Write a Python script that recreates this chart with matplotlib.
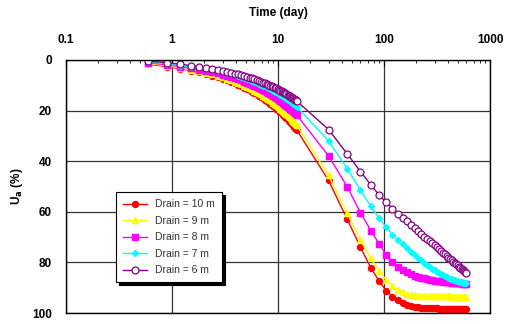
import matplotlib
matplotlib.use("Agg")
import matplotlib.pyplot as plt
from matplotlib.ticker import FixedLocator, FixedFormatter, LogLocator, NullFormatter

plt.rcParams['font.family'] = ['Liberation Sans', 'DejaVu Sans']

# time in days: 0.3 d steps up to 15 d, then 15 d steps to 600 d
TIME = [0.6, 0.9, 1.2, 1.5, 1.8, 2.1, 2.4, 2.7, 3.0, 3.3, 3.6, 3.9, 4.2, 4.5, 4.8,
        5.1, 5.4, 5.7, 6.0, 6.3, 6.6, 6.9, 7.2, 7.5, 7.8, 8.1, 8.4, 8.7, 9.0, 9.3,
        9.6, 9.9, 10.2, 10.5, 10.8, 11.1, 11.4, 11.7, 12.0, 12.3, 12.6, 12.9, 13.2,
        13.5, 13.8, 14.1, 14.4, 14.7, 15.0,
        30, 45, 60, 75, 90, 105, 120, 135, 150, 165, 180, 195, 210, 225, 240, 255,
        270, 285, 300, 315, 330, 345, 360, 375, 390, 405, 420, 435, 450, 465, 480,
        495, 510, 525, 540, 555, 570, 585, 600]

U_10 = [1.7, 2.6, 3.5, 4.2, 4.9, 5.5, 6.2, 6.8, 7.4, 8.0, 8.6, 9.2, 9.7, 10.3, 10.9,
        11.4, 12.0, 12.5, 13.0, 13.6, 14.1, 14.6, 15.1, 15.7, 16.2, 16.7, 17.2, 17.7,
        18.2, 18.7, 19.2, 19.7, 20.1, 20.6, 21.1, 21.6, 22.1, 22.5, 23.0, 23.5, 24.0,
        24.4, 24.9, 25.3, 25.8, 26.3, 26.7, 27.2, 27.6,
        47.6, 63.0, 74.0, 82.1, 87.4, 91.2, 93.5, 95.0, 96.1, 96.8, 97.3, 97.6, 97.8,
        97.9, 98.0, 98.1, 98.1, 98.2, 98.2, 98.2, 98.3, 98.3, 98.3, 98.3, 98.3, 98.4,
        98.4, 98.4, 98.4, 98.4, 98.4, 98.4, 98.4, 98.4, 98.4, 98.4, 98.4, 98.4, 98.4]

U_9 = [1.4, 2.3, 3.2, 3.9, 4.5, 5.1, 5.7, 6.3, 6.9, 7.4, 8.0, 8.5, 9.1, 9.6, 10.1,
       10.6, 11.1, 11.6, 12.1, 12.6, 13.1, 13.6, 14.1, 14.6, 15.0, 15.5, 16.0, 16.4,
       16.9, 17.4, 17.8, 18.3, 18.7, 19.2, 19.6, 20.1, 20.5, 21.0, 21.4, 21.8, 22.3,
       22.7, 23.1, 23.6, 24.0, 24.4, 24.9, 25.3, 25.7,
       45.6, 60.6, 71.1, 78.4, 83.3, 87.0, 89.3, 90.8, 91.8, 92.4, 92.8, 93.0, 93.2,
       93.3, 93.3, 93.4, 93.4, 93.4, 93.4, 93.4, 93.4, 93.4, 93.4, 93.4, 93.4, 93.4,
       93.4, 93.5, 93.5, 93.5, 93.5, 93.5, 93.5, 93.5, 93.5, 93.5, 93.5, 93.5, 93.5]

U_8 = [1.1, 1.9, 2.7, 3.3, 3.8, 4.3, 4.8, 5.3, 5.8, 6.3, 6.7, 7.2, 7.7, 8.1, 8.5,
       9.0, 9.4, 9.8, 10.3, 10.7, 11.1, 11.5, 11.9, 12.3, 12.7, 13.1, 13.5, 13.9,
       14.3, 14.7, 15.1, 15.5, 15.8, 16.2, 16.6, 17.0, 17.4, 17.7, 18.1, 18.5, 18.8,
       19.2, 19.6, 19.9, 20.3, 20.7, 21.0, 21.4, 21.7,
       37.9, 50.1, 60.3, 67.4, 72.6, 77.0, 79.8, 81.7, 83.0, 83.9, 84.6, 85.2, 85.7,
       86.0, 86.3, 86.6, 86.8, 87.0, 87.2, 87.3, 87.4, 87.5, 87.6, 87.7, 87.8, 87.9,
       87.9, 88.0, 88.0, 88.1, 88.1, 88.2, 88.2, 88.3, 88.3, 88.4, 88.4, 88.5, 88.5]

U_7 = [0.8, 1.5, 2.3, 2.8, 3.2, 3.7, 4.1, 4.5, 4.9, 5.3, 5.7, 6.1, 6.5, 6.9, 7.2,
       7.6, 8.0, 8.3, 8.7, 9.0, 9.4, 9.7, 10.1, 10.4, 10.8, 11.1, 11.5, 11.8, 12.1,
       12.5, 12.8, 13.1, 13.4, 13.8, 14.1, 14.4, 14.7, 15.0, 15.3, 15.7, 16.0, 16.3,
       16.6, 16.9, 17.2, 17.5, 17.8, 18.1, 18.4,
       32.0, 42.9, 51.5, 57.8, 62.6, 66.0, 69.0, 71.2, 72.9, 74.5, 75.8, 77.0, 78.1,
       79.1, 80.2, 81.0, 81.8, 82.5, 83.1, 83.7, 84.2, 84.7, 85.1, 85.5, 85.8, 86.1,
       86.4, 86.7, 86.9, 87.1, 87.3, 87.5, 87.6, 87.8, 87.9, 88.0, 88.1, 88.2, 88.3]

U_6 = [0.4, 1.1, 1.7, 2.2, 2.7, 3.1, 3.6, 4.0, 4.3, 4.7, 5.0, 5.4, 5.7, 6.0, 6.4,
       6.7, 7.0, 7.3, 7.6, 8.0, 8.3, 8.6, 8.9, 9.2, 9.5, 9.8, 10.1, 10.4, 10.7, 11.0,
       11.2, 11.5, 11.8, 12.1, 12.4, 12.7, 12.9, 13.2, 13.5, 13.8, 14.1, 14.3, 14.6,
       14.9, 15.1, 15.4, 15.7, 15.9, 16.2,
       27.5, 37.1, 44.1, 49.3, 53.4, 56.3, 58.7, 60.7, 62.3, 63.8, 65.2, 66.5, 67.6,
       68.7, 69.8, 70.7, 71.6, 72.5, 73.3, 74.1, 74.8, 75.5, 76.2, 76.8, 77.5, 78.1,
       78.6, 79.2, 79.7, 80.2, 80.7, 81.2, 81.7, 82.2, 82.6, 83.0, 83.5, 83.9, 84.3]

LABELS = ["Drain = 10 m", "Drain = 9 m", "Drain = 8 m", "Drain = 7 m", "Drain = 6 m"]
X_TICKS = [0.1, 1, 10, 100, 1000]
X_TICK_LABELS = ["0.1", "1", "10", "100", "1000"]
Y_TICKS = [0, 20, 40, 60, 80, 100]

fig = plt.figure(figsize=(5.05, 3.24), dpi=100)
ax = fig.add_axes([66 / 505, 1 - 313 / 324, 424 / 505, 253 / 324])

styles = [
    dict(color="red", marker="o", ms=4.3, mfc="red", mec="red"),
    dict(color="#ffff00", marker="^", ms=4.8, mfc="#ffff00", mec="#ffff00"),
    dict(color="#ff00ff", marker="s", ms=4.6, mfc="#ff00ff", mec="#ff00ff"),
    dict(color="#00ffff", marker="D", ms=3.0, mfc="#00ffff", mec="#00ffff"),
    dict(color="#800080", marker="o", ms=5, mfc="white", mec="#800080", mew=0.9),
]
for u, lab, st in zip([U_10, U_9, U_8, U_7, U_6], LABELS, styles):
    ax.plot(TIME, u, lw=1.0, label=lab, **st)

ax.set_xscale("log")
ax.set_xlim(0.1, 1000)
ax.set_ylim(100, 0)

ax.xaxis.tick_top()
ax.xaxis.set_label_position("top")
ax.xaxis.set_major_locator(FixedLocator(X_TICKS))
ax.xaxis.set_major_formatter(FixedFormatter(X_TICK_LABELS))
ax.xaxis.set_minor_locator(LogLocator(base=10, subs=range(2, 10)))
ax.xaxis.set_minor_formatter(NullFormatter())
ax.tick_params(axis="x", which="major", direction="in", length=4, pad=10,
               labelsize=8.5, width=0.8)
ax.tick_params(axis="x", which="minor", direction="in", length=2.5, width=0.6)
for lbl in ax.get_xticklabels():
    lbl.set_fontweight("bold")

ax.set_yticks(Y_TICKS)
ax.tick_params(axis="y", which="major", length=0, pad=10, labelsize=8.5)
for lbl in ax.get_yticklabels():
    lbl.set_fontweight("bold")

ax.grid(True, which="major", color="#333333", lw=0.9)
for sp in ax.spines.values():
    sp.set_color("black")
    sp.set_linewidth(1.0)

ax.set_xlabel("Time (day)", fontsize=8.5, fontweight="bold", labelpad=13)
ax.set_ylabel(r"U$_{\mathbf{a}}$ (%)", fontsize=8.5, fontweight="bold", labelpad=5)

leg = ax.legend(loc="lower left", bbox_to_anchor=(0.105, 0.1), fontsize=7.5,
                fancybox=False, edgecolor="black", framealpha=1,
                shadow={"color": "black", "alpha": 1, "ox": 2, "oy": -2},
                handlelength=2.3, borderpad=0.7, labelspacing=0.62)
leg.get_frame().set_linewidth(0.8)
for t in leg.get_texts():
    t.set_color("#333333")

fig.savefig("out.png", dpi=100)
